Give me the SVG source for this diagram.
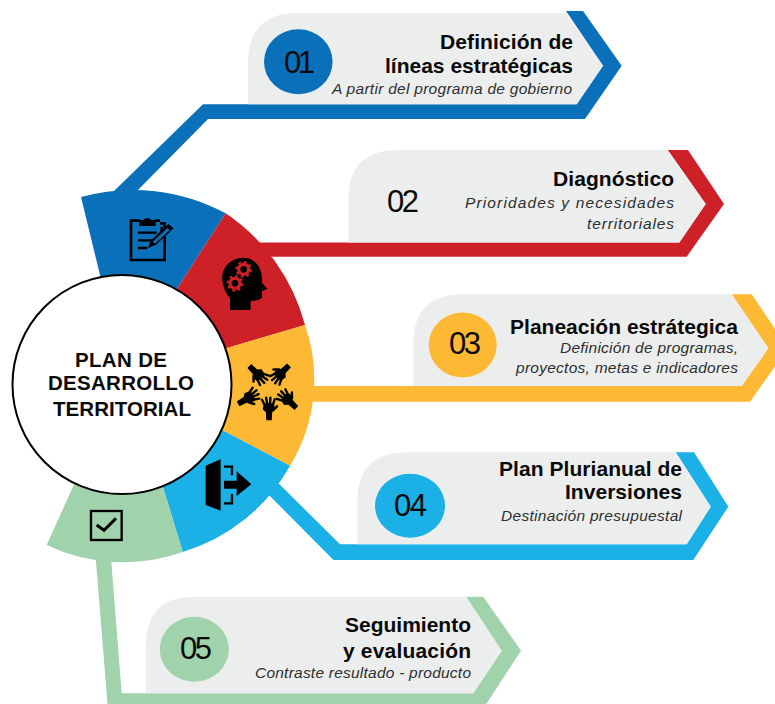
<svg xmlns="http://www.w3.org/2000/svg" xmlns:xlink="http://www.w3.org/1999/xlink" width="775" height="704" viewBox="0 0 775 704">
<style>
text{font-family:"Liberation Sans",Arial,sans-serif;text-anchor:end;fill:#0a0a0a}
.t{font-weight:700;font-size:21px}
.s{font-style:italic;font-size:15.5px;fill:#2e2e2e}
.n{font-size:31px;text-anchor:middle}
.c{font-weight:700;font-size:20.5px;text-anchor:middle}
.g{fill:#eceeee}
.blue{fill:#0b70ba}.red{fill:#cd2027}.yel{fill:#fdb934}.sky{fill:#1bb0e6}.grn{fill:#a0d3ab}
.ln{fill:none;stroke:#000}
</style>
<defs>
<g id="hand">
<path d="M-2.700 1H2.700L3.200 -7L5.800 -11L5 -16L-5 -16L-6.300 -10L-3.200 -7Z" fill="#000"/>
<path d="M-4 -13.500L-7 -19.500M-1.600 -14.500L-2.900 -21.500M1 -14.500L1.400 -21.500M3.400 -13.500L5.800 -20M4 -9L8 -13" fill="none" stroke="#000" stroke-width="2.400" stroke-linecap="round"/>
</g>
</defs>
<g id="connectors">
<path class="blue" d="M113 192L203 104.300H576.700L603 65.700L566 11H583L621.700 65.700L585 119H208L137 191Z"/>
<path class="red" d="M255 242.500H679.300L705.700 204L667.700 150H688L724 204L686.700 256.700H272Z"/>
<path class="yel" d="M308 386H741.700L768.300 348.300L731.700 294.300H751.700L788 348.300L750 401.700H308Z"/>
<path class="sky" d="M262 467L340 544.300H686.700L710.700 506.700L675.700 452.300H694L728.300 506.700L693.300 560H333.500L252 478Z"/>
<path class="grn" d="M95.700 558L107.700 706H485L521 650.700L483.300 596.700H466L501.700 650.700L473.300 693.300H121.700L111 558Z"/>
</g>
<g id="node-01">
<path class="g" d="M248 104.300V63Q248 13 298 13H566L603 65.700L576.700 104.300Z"/>
<ellipse class="blue" cx="298.300" cy="61.700" rx="34.300" ry="32.500"/>
<text class="n" x="299.500" y="72.700" textLength="31">01</text>
<text class="t" x="573" y="49" textLength="133">Definición de</text>
<text class="t" x="573" y="72.700" textLength="188">líneas estratégicas</text>
<text class="s" x="572" y="93.500" textLength="240">A partir del programa de gobierno</text>
</g>
<g id="node-02">
<path class="g" d="M348.300 242.500V200Q348.300 150 398 150H667.700L705.700 204L679.300 242.500Z"/>
<text class="n" x="403" y="211.700" textLength="32">02</text>
<text class="t" x="674" y="185.700" textLength="121">Diagnóstico</text>
<text class="s" x="674" y="208.300" textLength="209">Prioridades y necesidades</text>
<text class="s" x="674" y="229.300" textLength="87">territoriales</text>
</g>
<g id="node-03">
<path class="g" d="M413.300 386V344Q413.300 294.300 463 294.300H731.700L768.300 348.300L741.700 386Z"/>
<ellipse class="yel" cx="462.700" cy="345" rx="34" ry="32.500"/>
<text class="n" x="465" y="354.300" textLength="32">03</text>
<text class="t" x="738" y="334" textLength="228">Planeación estrátegica</text>
<text class="s" x="738" y="353.300" textLength="178">Definición de programas,</text>
<text class="s" x="738" y="373.300" textLength="222">proyectos, metas e indicadores</text>
</g>
<g id="node-04">
<path class="g" d="M357.300 544.300V502Q357.300 452.300 407 452.300H675.700L710.700 506.700L686.700 544.300Z"/>
<ellipse class="sky" cx="410" cy="505.700" rx="35" ry="32"/>
<text class="n" x="410.500" y="516" textLength="33">04</text>
<text class="t" x="682" y="475.700" textLength="183">Plan Plurianual de</text>
<text class="t" x="682" y="499.300" textLength="117">Inversiones</text>
<text class="s" x="682" y="521" textLength="181">Destinación presupuestal</text>
</g>
<g id="node-05">
<path class="g" d="M145.700 693.300V646Q145.700 596.700 195 596.700H466L501.700 650.700L473.300 693.300Z"/>
<ellipse class="grn" cx="194.300" cy="649.300" rx="34.500" ry="32.500"/>
<text class="n" x="196" y="659.300" textLength="32">05</text>
<text class="t" x="471" y="631.700" textLength="126">Seguimiento</text>
<text class="t" x="471" y="658" textLength="128">y evaluación</text>
<text class="s" x="471" y="678.300" textLength="216">Contraste resultado - producto</text>
</g>
<g id="sector-1">
<path class="blue" d="M81 197A195 195 0 0 1 225.700 213.300L177.300 288.300L122 384.500L100 275Z"/>
<g transform="translate(60 170) scale(.3333)">
<path class="ln" stroke-width="8" d="M300 160H314V270H213V152H240M285 152H300M305 200V170"/>
<path d="M238 160V150H250Q262 138 274 150H287V168H238Z" fill="#000"/>
<path class="ln" stroke-width="7" d="M234 188H290M234 211H280M234 234H262"/>
<path d="M264 234L272 212L325 162L341 175L288 224ZM272 222L279 228" fill="#000"/>
<path d="M278 215L322 174L329 180L285 221Z" fill="#0b70ba"/>
</g>
</g>
<g id="sector-2">
<path class="red" d="M225.700 213.300A195 195 0 0 1 305 325L227.700 347.700L122 384.500L177.300 288.300Z"/>
<g transform="translate(60 170) scale(.3333)">
<path fill="#000" d="M510 420V385Q488 360 486 322Q490 280 530 266Q575 255 598 292Q608 315 606 338L622 356L606 364V382Q600 393 572 393V420Z"/>
<circle cx="551" cy="298" r="15" fill="none" stroke="#cd2027" stroke-width="10"/>
<circle cx="551" cy="298" r="22" fill="none" stroke="#cd2027" stroke-width="6" stroke-dasharray="8 9.300"/>
<circle cx="525" cy="340" r="15" fill="none" stroke="#cd2027" stroke-width="10"/>
<circle cx="525" cy="340" r="22" fill="none" stroke="#cd2027" stroke-width="6" stroke-dasharray="8 9.300"/>
</g>
</g>
<g id="sector-3">
<path class="yel" d="M305 325A165 165 0 0 1 290 465.700L223.300 430.700L122 384.500L227.700 347.700Z"/>
<use xlink:href="#hand" href="#hand" transform="translate(250 366.700) rotate(135)"/>
<use xlink:href="#hand" href="#hand" transform="translate(288.300 366) rotate(225)"/>
<use xlink:href="#hand" href="#hand" transform="translate(295.700 407.300) rotate(-46)"/>
<use xlink:href="#hand" href="#hand" transform="translate(269 419.300)"/>
<use xlink:href="#hand" href="#hand" transform="translate(239 403.300) rotate(61)"/>
</g>
<g id="sector-4">
<path class="sky" d="M290 465.700A183 183 0 0 1 182.700 552L163.300 488.300L122 384.500L223.300 430.700Z"/>
<g transform="translate(30 400) scale(.3333)">
<path fill="#000" d="M527 197L572 178V332L527 315Z"/>
<path class="ln" stroke-width="7" d="M582 200H606V226M582 310H606V282"/>
<path fill="#000" d="M582 242H620V214L664 253L620 288V266H582Z"/>
</g>
</g>
<g id="sector-5">
<path class="grn" d="M182.700 552A178 178 0 0 1 46.700 545L73.300 486L122 384.500L163.300 488.300Z"/>
<g transform="translate(30 400) scale(.3333)">
<rect class="ln" x="183" y="333" width="92" height="87" stroke-width="7"/>
<path class="ln" stroke-width="9" d="M200 375L222 391L258 355"/>
</g>
</g>
<g id="center">
<circle cx="122" cy="384.500" r="109.500" fill="#fff" stroke="#000" stroke-width="2"/>
<text class="c" x="121" y="366.700" textLength="92">PLAN DE</text>
<text class="c" x="121" y="390" textLength="146">DESARROLLO</text>
<text class="c" x="122" y="416" textLength="138">TERRITORIAL</text>
</g>
</svg>
